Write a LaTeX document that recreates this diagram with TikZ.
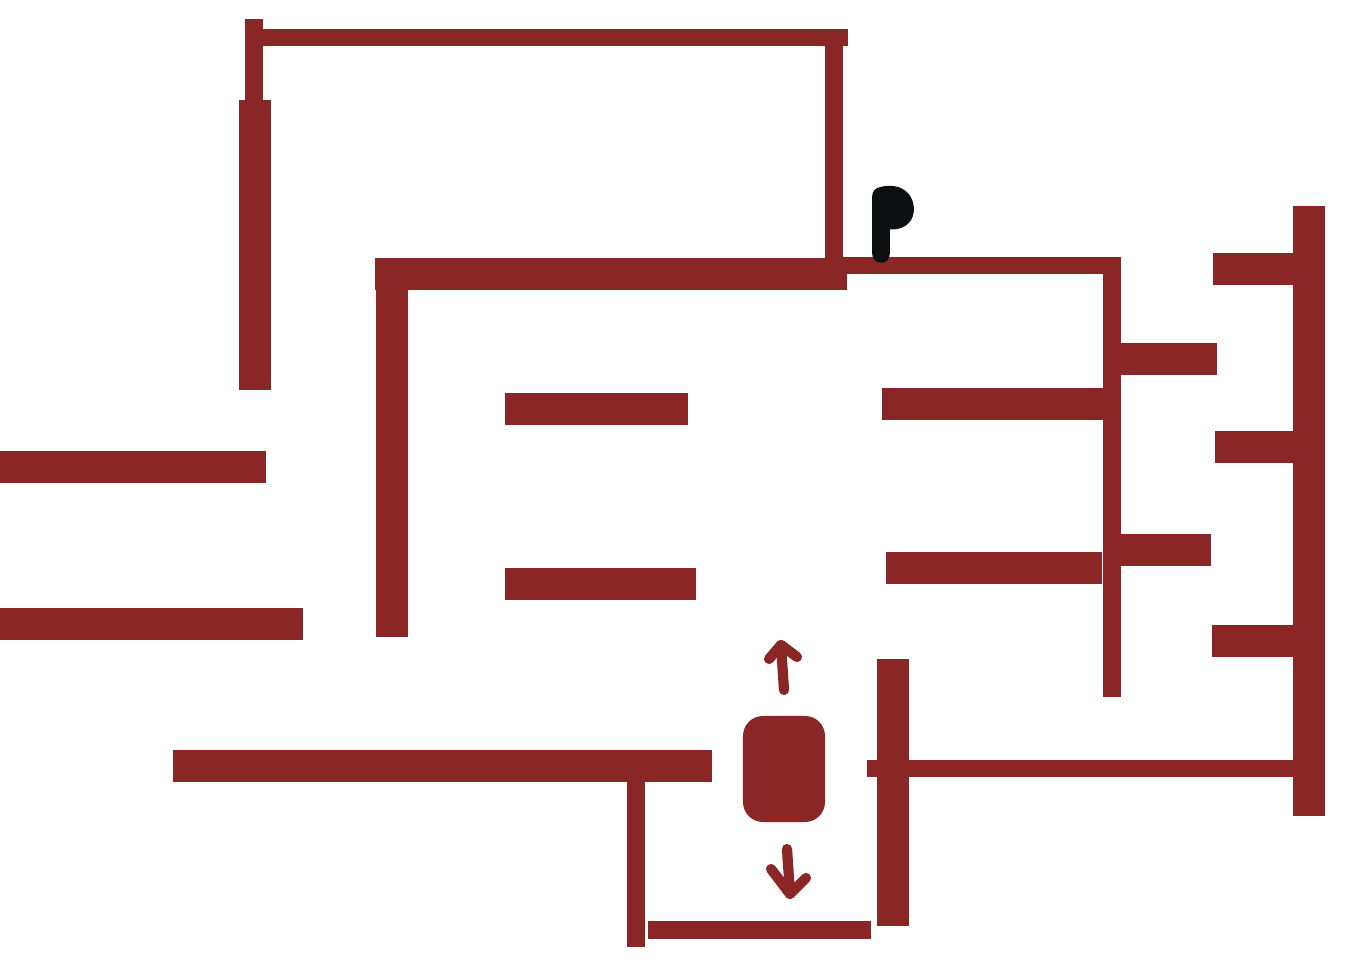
\documentclass[tikz,border=0pt]{standalone}
\usetikzlibrary{positioning}
\definecolor{mazered}{RGB}{139,38,38}
\definecolor{flagink}{RGB}{12,16,18}
\tikzset{
  wall/.style={fill=mazered},
  sketch/.style={draw=mazered,line width=2.9pt,line cap=round,line join=round},
}

\begin{document}
\begin{tikzpicture}[x=0.01cm,y=-0.01cm]
  \useasboundingbox (0,0) rectangle (1348,967);
  % walls, given as corners in pixels of the sheet
  \foreach \xa/\ya/\xb/\yb in {
    245/19/263/100, 263/29/848/46, 825/46/843/260, 239/100/271/390,
    375/258/847/290, 376/290/408/637, 843/257/1120/274, 1103/257/1121/697,
    1293/206/1325/816, 1213/253/1293/285, 1121/343/1217/375,
    505/393/688/425, 882/388/1103/420, 1215/431/1293/463,
    0/451/266/483, 505/568/696/600, 886/552/1102/584,
    1121/534/1211/566, 1212/625/1293/657, 0/608/303/640,
    877/659/909/926, 867/760/1293/777, 173/750/712/782,
    627/782/645/947, 648/921/871/939}{
    \fill[wall] (\xa,\ya) rectangle (\xb,\yb);
  }

  % the mover and its two directions
  \node[wall,rounded corners=0.2cm,minimum width=0.82cm,minimum height=1.06cm,inner sep=0pt] (mover) at (784,769) {};
  \draw[sketch] (784,690) -- (781,645);
  \draw[sketch] (769,659) -- (781,645) -- (797,657);
  \draw[sketch] (787,849) -- (790,894);
  \draw[sketch] (771,869) -- (790,894) -- (806,878);

  % goal flag
  \draw[flagink,fill=flagink,line width=5pt,line cap=round,line join=round]
    (881,254) -- (881,196) .. controls (898,191) and (906,200) .. (905,211)
    .. controls (904,220) and (895,222) .. (885,220) -- (881,210);
\end{tikzpicture}
\end{document}
